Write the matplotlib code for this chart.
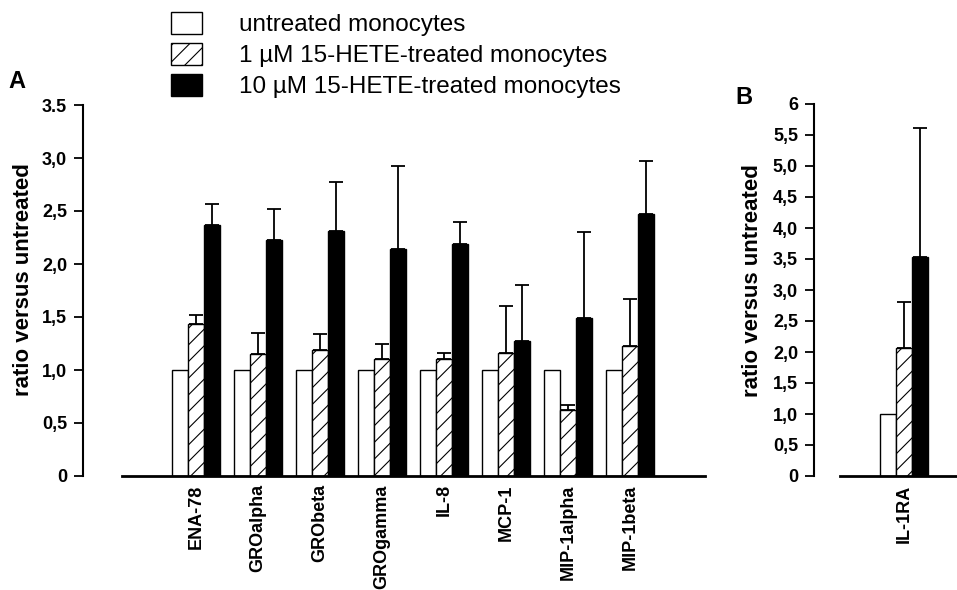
import numpy as np
import matplotlib
matplotlib.use("Agg")
import matplotlib.pyplot as plt
from matplotlib.patches import Patch

plt.rcParams['font.family'] = ['Liberation Sans', 'DejaVu Sans']
plt.rcParams['hatch.linewidth'] = 0.8

# panel A data
cytokines = ["ENA-78", "GROalpha", "GRObeta", "GROgamma", "IL-8", "MCP-1", "MIP-1alpha", "MIP-1beta"]
untreated = [1.0, 1.0, 1.0, 1.0, 1.0, 1.0, 1.0, 1.0]
hete_1 = [1.43, 1.15, 1.19, 1.10, 1.10, 1.16, 0.62, 1.23]
hete_1_top = [1.52, 1.35, 1.34, 1.25, 1.16, 1.60, 0.67, 1.67]
hete_10 = [2.37, 2.23, 2.31, 2.14, 2.19, 1.27, 1.49, 2.47]
hete_10_top = [2.57, 2.52, 2.77, 2.92, 2.40, 1.80, 2.30, 2.97]

# panel B data
b_cat = ["IL-1RA"]
b_untreated = [1.0]
b_hete_1 = [2.06]
b_hete_1_top = [2.80]
b_hete_10 = [3.54]
b_hete_10_top = [5.61]

legend_labels = ["untreated monocytes", "1 \u00b5M 15-HETE-treated monocytes", "10 \u00b5M 15-HETE-treated monocytes"]

W, H = 957, 590
fig = plt.figure(figsize=(W / 100, H / 100), dpi=100)

bw = 0.26
px = 72 / 100  # points per pixel


def draw_panel(ax, cats, u, h1, h1top, h10, h10top):
    x = np.arange(len(cats))
    ax.bar(x - bw, u, bw, color="white", edgecolor="black", linewidth=1.0, zorder=2)
    ax.bar(x, h1, bw, color="white", edgecolor="black", hatch="//", linewidth=1.0, zorder=2)
    ax.bar(x + bw, h10, bw, color="black", edgecolor="black", linewidth=1.0, zorder=2)
    e1 = np.array(h1top) - np.array(h1)
    e10 = np.array(h10top) - np.array(h10)
    ax.errorbar(x, h1, yerr=[np.zeros(len(x)), e1], fmt="none", ecolor="black",
                elinewidth=1.3, capsize=4.8, capthick=1.3, zorder=1)
    ax.errorbar(x + bw, h10, yerr=[np.zeros(len(x)), e10], fmt="none", ecolor="black",
                elinewidth=1.3, capsize=4.8, capthick=1.3, zorder=1)
    ax.set_xticks(x)
    ax.set_xticklabels(cats, rotation=90, fontsize=13, fontweight="bold")
    ax.tick_params(axis="x", length=0, pad=6)
    ax.tick_params(axis="y", length=6.5, width=1.3, pad=5, direction="out")
    for s in ["top", "right"]:
        ax.spines[s].set_visible(False)
    ax.spines["bottom"].set_linewidth(2.0)
    ax.spines["left"].set_linewidth(1.5)
    ax.patch.set_alpha(0)


# panel A
axA = fig.add_axes([122 / W, (H - 476) / H, 583 / W, 371 / H])
draw_panel(axA, cytokines, untreated, hete_1, hete_1_top, hete_10, hete_10_top)
axA.set_xlim((122 - 196) / 62, (705 - 196) / 62)
axA.set_ylim(0, 3.5)
axA.spines["left"].set_position(("outward", 39 * px))
axA.spines["left"].set_bounds(0, 3.5)
a_ticks = [0, 0.5, 1.0, 1.5, 2.0, 2.5, 3.0, 3.5]
axA.set_yticks(a_ticks)
axA.set_yticklabels(["0", "0,5", "1,0", "1,5", "2,0", "2,5", "3,0", "3.5"],
                    fontsize=13, fontweight="bold")

# panel B
axB = fig.add_axes([840 / W, (H - 476) / H, 117 / W, 372 / H])
draw_panel(axB, b_cat, b_untreated, b_hete_1, b_hete_1_top, b_hete_10, b_hete_10_top)
axB.set_xlim((840 - 904) / 62, (957 - 904) / 62)
axB.set_ylim(0, 6)
axB.spines["left"].set_position(("outward", 26 * px))
axB.spines["left"].set_bounds(0, 6)
b_ticks = [0, 0.5, 1, 1.5, 2, 2.5, 3, 3.5, 4, 4.5, 5, 5.5, 6]
axB.set_yticks(b_ticks)
axB.set_yticklabels(["0", "0,5", "1,0", "1,5", "2,0", "2,5", "3,0", "3,5", "4,0", "4,5", "5,0", "5,5", "6"],
                    fontsize=13, fontweight="bold")

# axis labels and panel letters
fig.text(24 / W, 1 - 280 / H, "ratio versus untreated", rotation=90, ha="center", va="center",
         fontsize=16, fontweight="bold")
fig.text(753 / W, 1 - 281 / H, "ratio versus untreated", rotation=90, ha="center", va="center",
         fontsize=16, fontweight="bold")
fig.text(8 / W, 1 - 82 / H, "A", fontsize=17, fontweight="bold", va="center")
fig.text(735 / W, 1 - 98 / H, "B", fontsize=17, fontweight="bold", va="center")

# legend
handles = [Patch(facecolor="white", edgecolor="black", linewidth=1.0),
           Patch(facecolor="white", edgecolor="black", hatch="//", linewidth=1.0),
           Patch(facecolor="black", edgecolor="black", linewidth=1.0)]
fig.legend(handles, legend_labels, loc="upper left", bbox_to_anchor=(171 / W, 1 - 12 / H),
           frameon=False, fontsize=17.5, handlelength=1.28, handleheight=1.0,
           handletextpad=1.5, labelspacing=0.28, borderpad=0.0, borderaxespad=0.0)

fig.savefig("out.png", dpi=100)
